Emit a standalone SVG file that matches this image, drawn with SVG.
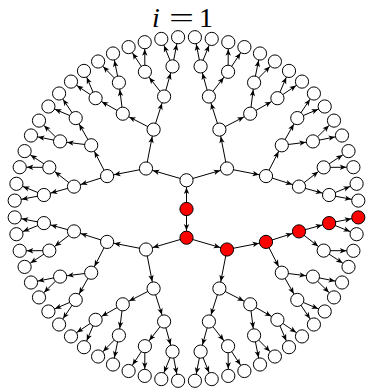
<svg xmlns="http://www.w3.org/2000/svg" width="368" height="388" viewBox="0 0 368 388">
<style>
.node circle{fill:#fff;stroke:#000;stroke-width:1}
.node.red circle{fill:#ff0000}
#edges line{stroke:#000;stroke-width:1;marker-end:url(#ah)}
.lbl{font-family:"Liberation Serif",serif;font-size:28px;fill:#000}
</style>
<defs>
<marker id="ah" markerUnits="userSpaceOnUse" markerWidth="10" markerHeight="10" refX="7.1" refY="0" orient="auto" overflow="visible">
<path d="M0,0 L-6.5,-2.7 L-4.8,0 L-6.5,2.7 Z" fill="#000"/>
</marker>
</defs>
<g id="label">
<text class="lbl" x="152" y="27" font-style="italic">i</text>
<text class="lbl" x="169" y="27" textLength="25" lengthAdjust="spacingAndGlyphs">=</text>
<text class="lbl" x="206" y="27" text-anchor="middle">1</text>
</g>
<g id="edges">
<line x1="186.5" y1="209" x2="186.5" y2="180.3"/>
<line x1="186.5" y1="209" x2="186.5" y2="237.7"/>
<line x1="186.5" y1="237.7" x2="227" y2="249.5"/>
<line x1="186.5" y1="237.7" x2="146" y2="249.5"/>
<line x1="186.5" y1="180.3" x2="146" y2="168.5"/>
<line x1="186.5" y1="180.3" x2="227" y2="168.5"/>
<line x1="227" y1="249.5" x2="266" y2="241.9"/>
<line x1="227" y1="249.5" x2="219.4" y2="288.5"/>
<line x1="146" y1="249.5" x2="153.6" y2="288.5"/>
<line x1="146" y1="249.5" x2="107.1" y2="241.9"/>
<line x1="146" y1="168.5" x2="107.1" y2="176.1"/>
<line x1="146" y1="168.5" x2="153.6" y2="129.6"/>
<line x1="227" y1="168.5" x2="219.4" y2="129.6"/>
<line x1="227" y1="168.5" x2="266" y2="176.1"/>
<line x1="266" y1="241.9" x2="299" y2="231.4"/>
<line x1="266" y1="241.9" x2="281.8" y2="272.7"/>
<line x1="219.4" y1="288.5" x2="250.2" y2="304.3"/>
<line x1="219.4" y1="288.5" x2="208.9" y2="321.5"/>
<line x1="153.6" y1="288.5" x2="164.1" y2="321.5"/>
<line x1="153.6" y1="288.5" x2="122.8" y2="304.3"/>
<line x1="107.1" y1="241.9" x2="91.2" y2="272.7"/>
<line x1="107.1" y1="241.9" x2="74" y2="231.4"/>
<line x1="107.1" y1="176.1" x2="74" y2="186.6"/>
<line x1="107.1" y1="176.1" x2="91.2" y2="145.3"/>
<line x1="153.6" y1="129.6" x2="122.8" y2="113.7"/>
<line x1="153.6" y1="129.6" x2="164.1" y2="96.5"/>
<line x1="219.4" y1="129.6" x2="208.9" y2="96.5"/>
<line x1="219.4" y1="129.6" x2="250.2" y2="113.7"/>
<line x1="266" y1="176.1" x2="281.8" y2="145.3"/>
<line x1="266" y1="176.1" x2="299" y2="186.6"/>
<line x1="299" y1="231.4" x2="329.1" y2="223.1"/>
<line x1="299" y1="231.4" x2="323.7" y2="250.6"/>
<line x1="281.8" y1="272.7" x2="312.9" y2="276.6"/>
<line x1="281.8" y1="272.7" x2="297.3" y2="299.9"/>
<line x1="250.2" y1="304.3" x2="277.4" y2="319.8"/>
<line x1="250.2" y1="304.3" x2="254.1" y2="335.4"/>
<line x1="208.9" y1="321.5" x2="228.1" y2="346.2"/>
<line x1="208.9" y1="321.5" x2="200.6" y2="351.6"/>
<line x1="164.1" y1="321.5" x2="172.5" y2="351.6"/>
<line x1="164.1" y1="321.5" x2="144.9" y2="346.2"/>
<line x1="122.8" y1="304.3" x2="118.9" y2="335.4"/>
<line x1="122.8" y1="304.3" x2="95.6" y2="319.8"/>
<line x1="91.2" y1="272.7" x2="75.7" y2="299.9"/>
<line x1="91.2" y1="272.7" x2="60.1" y2="276.6"/>
<line x1="74" y1="231.4" x2="49.3" y2="250.6"/>
<line x1="74" y1="231.4" x2="43.9" y2="223.1"/>
<line x1="74" y1="186.6" x2="43.9" y2="195"/>
<line x1="74" y1="186.6" x2="49.3" y2="167.4"/>
<line x1="91.2" y1="145.3" x2="60.1" y2="141.4"/>
<line x1="91.2" y1="145.3" x2="75.7" y2="118.1"/>
<line x1="122.8" y1="113.7" x2="95.6" y2="98.2"/>
<line x1="122.8" y1="113.7" x2="118.9" y2="82.6"/>
<line x1="164.1" y1="96.5" x2="144.9" y2="71.8"/>
<line x1="164.1" y1="96.5" x2="172.5" y2="66.4"/>
<line x1="208.9" y1="96.5" x2="200.6" y2="66.4"/>
<line x1="208.9" y1="96.5" x2="228.1" y2="71.8"/>
<line x1="250.2" y1="113.7" x2="254.1" y2="82.6"/>
<line x1="250.2" y1="113.7" x2="277.4" y2="98.2"/>
<line x1="281.8" y1="145.3" x2="297.3" y2="118.1"/>
<line x1="281.8" y1="145.3" x2="312.9" y2="141.4"/>
<line x1="299" y1="186.6" x2="323.7" y2="167.4"/>
<line x1="299" y1="186.6" x2="329.1" y2="195"/>
<line x1="329.1" y1="223.1" x2="358.3" y2="217.4"/>
<line x1="329.1" y1="223.1" x2="356.6" y2="234.2"/>
<line x1="323.7" y1="250.6" x2="353.4" y2="250.8"/>
<line x1="323.7" y1="250.6" x2="348.5" y2="266.9"/>
<line x1="312.9" y1="276.6" x2="342" y2="282.5"/>
<line x1="312.9" y1="276.6" x2="334" y2="297.4"/>
<line x1="297.3" y1="299.9" x2="324.7" y2="311.5"/>
<line x1="297.3" y1="299.9" x2="313.9" y2="324.5"/>
<line x1="277.4" y1="319.8" x2="302" y2="336.4"/>
<line x1="277.4" y1="319.8" x2="289" y2="347.2"/>
<line x1="254.1" y1="335.4" x2="274.9" y2="356.5"/>
<line x1="254.1" y1="335.4" x2="260" y2="364.5"/>
<line x1="228.1" y1="346.2" x2="244.4" y2="371"/>
<line x1="228.1" y1="346.2" x2="228.3" y2="375.9"/>
<line x1="200.6" y1="351.6" x2="211.7" y2="379.1"/>
<line x1="200.6" y1="351.6" x2="194.9" y2="380.8"/>
<line x1="172.5" y1="351.6" x2="178.1" y2="380.8"/>
<line x1="172.5" y1="351.6" x2="161.3" y2="379.1"/>
<line x1="144.9" y1="346.2" x2="144.7" y2="375.9"/>
<line x1="144.9" y1="346.2" x2="128.6" y2="371"/>
<line x1="118.9" y1="335.4" x2="113" y2="364.5"/>
<line x1="118.9" y1="335.4" x2="98.1" y2="356.5"/>
<line x1="95.6" y1="319.8" x2="84" y2="347.2"/>
<line x1="95.6" y1="319.8" x2="71" y2="336.4"/>
<line x1="75.7" y1="299.9" x2="59.1" y2="324.5"/>
<line x1="75.7" y1="299.9" x2="48.4" y2="311.5"/>
<line x1="60.1" y1="276.6" x2="39" y2="297.4"/>
<line x1="60.1" y1="276.6" x2="31" y2="282.5"/>
<line x1="49.3" y1="250.6" x2="24.6" y2="266.9"/>
<line x1="49.3" y1="250.6" x2="19.7" y2="250.8"/>
<line x1="43.9" y1="223.1" x2="16.4" y2="234.2"/>
<line x1="43.9" y1="223.1" x2="14.7" y2="217.4"/>
<line x1="43.9" y1="195" x2="14.7" y2="200.6"/>
<line x1="43.9" y1="195" x2="16.4" y2="183.8"/>
<line x1="49.3" y1="167.4" x2="19.7" y2="167.2"/>
<line x1="49.3" y1="167.4" x2="24.6" y2="151.1"/>
<line x1="60.1" y1="141.4" x2="31" y2="135.5"/>
<line x1="60.1" y1="141.4" x2="39" y2="120.6"/>
<line x1="75.7" y1="118.1" x2="48.4" y2="106.5"/>
<line x1="75.7" y1="118.1" x2="59.1" y2="93.5"/>
<line x1="95.6" y1="98.2" x2="71" y2="81.6"/>
<line x1="95.6" y1="98.2" x2="84" y2="70.9"/>
<line x1="118.9" y1="82.6" x2="98.1" y2="61.5"/>
<line x1="118.9" y1="82.6" x2="113" y2="53.5"/>
<line x1="144.9" y1="71.8" x2="128.6" y2="47.1"/>
<line x1="144.9" y1="71.8" x2="144.7" y2="42.2"/>
<line x1="172.5" y1="66.4" x2="161.3" y2="38.9"/>
<line x1="172.5" y1="66.4" x2="178.1" y2="37.2"/>
<line x1="200.6" y1="66.4" x2="194.9" y2="37.2"/>
<line x1="200.6" y1="66.4" x2="211.7" y2="38.9"/>
<line x1="228.1" y1="71.8" x2="228.3" y2="42.2"/>
<line x1="228.1" y1="71.8" x2="244.4" y2="47.1"/>
<line x1="254.1" y1="82.6" x2="260" y2="53.5"/>
<line x1="254.1" y1="82.6" x2="274.9" y2="61.5"/>
<line x1="277.4" y1="98.2" x2="289" y2="70.9"/>
<line x1="277.4" y1="98.2" x2="302" y2="81.6"/>
<line x1="297.3" y1="118.1" x2="313.9" y2="93.5"/>
<line x1="297.3" y1="118.1" x2="324.7" y2="106.5"/>
<line x1="312.9" y1="141.4" x2="334" y2="120.6"/>
<line x1="312.9" y1="141.4" x2="342" y2="135.5"/>
<line x1="323.7" y1="167.4" x2="348.5" y2="151.1"/>
<line x1="323.7" y1="167.4" x2="353.4" y2="167.2"/>
<line x1="329.1" y1="195" x2="356.6" y2="183.8"/>
<line x1="329.1" y1="195" x2="358.3" y2="200.6"/>
</g>
<g id="nodes">
<g id="M" class="node red"><circle cx="186.5" cy="209" r="6.6"/></g>
<g id="T" class="node"><circle cx="186.5" cy="180.3" r="6.6"/></g>
<g id="B" class="node red"><circle cx="186.5" cy="237.7" r="6.6"/></g>
<g id="p0" class="node red"><circle cx="227" cy="249.5" r="6.6"/></g>
<g id="p1" class="node"><circle cx="146" cy="249.5" r="6.6"/></g>
<g id="p2" class="node"><circle cx="146" cy="168.5" r="6.6"/></g>
<g id="p3" class="node"><circle cx="227" cy="168.5" r="6.6"/></g>
<g id="n0" class="node red"><circle cx="266" cy="241.9" r="6.6"/></g>
<g id="n1" class="node"><circle cx="219.4" cy="288.5" r="6.6"/></g>
<g id="n2" class="node"><circle cx="153.6" cy="288.5" r="6.6"/></g>
<g id="n3" class="node"><circle cx="107.1" cy="241.9" r="6.6"/></g>
<g id="n4" class="node"><circle cx="107.1" cy="176.1" r="6.6"/></g>
<g id="n5" class="node"><circle cx="153.6" cy="129.6" r="6.6"/></g>
<g id="n6" class="node"><circle cx="219.4" cy="129.6" r="6.6"/></g>
<g id="n7" class="node"><circle cx="266" cy="176.1" r="6.6"/></g>
<g id="m0" class="node red"><circle cx="299" cy="231.4" r="6.6"/></g>
<g id="m1" class="node"><circle cx="281.8" cy="272.7" r="6.6"/></g>
<g id="m2" class="node"><circle cx="250.2" cy="304.3" r="6.6"/></g>
<g id="m3" class="node"><circle cx="208.9" cy="321.5" r="6.6"/></g>
<g id="m4" class="node"><circle cx="164.1" cy="321.5" r="6.6"/></g>
<g id="m5" class="node"><circle cx="122.8" cy="304.3" r="6.6"/></g>
<g id="m6" class="node"><circle cx="91.2" cy="272.7" r="6.6"/></g>
<g id="m7" class="node"><circle cx="74" cy="231.4" r="6.6"/></g>
<g id="m8" class="node"><circle cx="74" cy="186.6" r="6.6"/></g>
<g id="m9" class="node"><circle cx="91.2" cy="145.3" r="6.6"/></g>
<g id="m10" class="node"><circle cx="122.8" cy="113.7" r="6.6"/></g>
<g id="m11" class="node"><circle cx="164.1" cy="96.5" r="6.6"/></g>
<g id="m12" class="node"><circle cx="208.9" cy="96.5" r="6.6"/></g>
<g id="m13" class="node"><circle cx="250.2" cy="113.7" r="6.6"/></g>
<g id="m14" class="node"><circle cx="281.8" cy="145.3" r="6.6"/></g>
<g id="m15" class="node"><circle cx="299" cy="186.6" r="6.6"/></g>
<g id="j0" class="node red"><circle cx="329.1" cy="223.1" r="6.6"/></g>
<g id="j1" class="node"><circle cx="323.7" cy="250.6" r="6.6"/></g>
<g id="j2" class="node"><circle cx="312.9" cy="276.6" r="6.6"/></g>
<g id="j3" class="node"><circle cx="297.3" cy="299.9" r="6.6"/></g>
<g id="j4" class="node"><circle cx="277.4" cy="319.8" r="6.6"/></g>
<g id="j5" class="node"><circle cx="254.1" cy="335.4" r="6.6"/></g>
<g id="j6" class="node"><circle cx="228.1" cy="346.2" r="6.6"/></g>
<g id="j7" class="node"><circle cx="200.6" cy="351.6" r="6.6"/></g>
<g id="j8" class="node"><circle cx="172.5" cy="351.6" r="6.6"/></g>
<g id="j9" class="node"><circle cx="144.9" cy="346.2" r="6.6"/></g>
<g id="j10" class="node"><circle cx="118.9" cy="335.4" r="6.6"/></g>
<g id="j11" class="node"><circle cx="95.6" cy="319.8" r="6.6"/></g>
<g id="j12" class="node"><circle cx="75.7" cy="299.9" r="6.6"/></g>
<g id="j13" class="node"><circle cx="60.1" cy="276.6" r="6.6"/></g>
<g id="j14" class="node"><circle cx="49.3" cy="250.6" r="6.6"/></g>
<g id="j15" class="node"><circle cx="43.9" cy="223.1" r="6.6"/></g>
<g id="j16" class="node"><circle cx="43.9" cy="195" r="6.6"/></g>
<g id="j17" class="node"><circle cx="49.3" cy="167.4" r="6.6"/></g>
<g id="j18" class="node"><circle cx="60.1" cy="141.4" r="6.6"/></g>
<g id="j19" class="node"><circle cx="75.7" cy="118.1" r="6.6"/></g>
<g id="j20" class="node"><circle cx="95.6" cy="98.2" r="6.6"/></g>
<g id="j21" class="node"><circle cx="118.9" cy="82.6" r="6.6"/></g>
<g id="j22" class="node"><circle cx="144.9" cy="71.8" r="6.6"/></g>
<g id="j23" class="node"><circle cx="172.5" cy="66.4" r="6.6"/></g>
<g id="j24" class="node"><circle cx="200.6" cy="66.4" r="6.6"/></g>
<g id="j25" class="node"><circle cx="228.1" cy="71.8" r="6.6"/></g>
<g id="j26" class="node"><circle cx="254.1" cy="82.6" r="6.6"/></g>
<g id="j27" class="node"><circle cx="277.4" cy="98.2" r="6.6"/></g>
<g id="j28" class="node"><circle cx="297.3" cy="118.1" r="6.6"/></g>
<g id="j29" class="node"><circle cx="312.9" cy="141.4" r="6.6"/></g>
<g id="j30" class="node"><circle cx="323.7" cy="167.4" r="6.6"/></g>
<g id="j31" class="node"><circle cx="329.1" cy="195" r="6.6"/></g>
<g id="k0" class="node red"><circle cx="358.3" cy="217.4" r="6.6"/></g>
<g id="k1" class="node"><circle cx="356.6" cy="234.2" r="6.6"/></g>
<g id="k2" class="node"><circle cx="353.4" cy="250.8" r="6.6"/></g>
<g id="k3" class="node"><circle cx="348.5" cy="266.9" r="6.6"/></g>
<g id="k4" class="node"><circle cx="342" cy="282.5" r="6.6"/></g>
<g id="k5" class="node"><circle cx="334" cy="297.4" r="6.6"/></g>
<g id="k6" class="node"><circle cx="324.7" cy="311.5" r="6.6"/></g>
<g id="k7" class="node"><circle cx="313.9" cy="324.5" r="6.6"/></g>
<g id="k8" class="node"><circle cx="302" cy="336.4" r="6.6"/></g>
<g id="k9" class="node"><circle cx="289" cy="347.2" r="6.6"/></g>
<g id="k10" class="node"><circle cx="274.9" cy="356.5" r="6.6"/></g>
<g id="k11" class="node"><circle cx="260" cy="364.5" r="6.6"/></g>
<g id="k12" class="node"><circle cx="244.4" cy="371" r="6.6"/></g>
<g id="k13" class="node"><circle cx="228.3" cy="375.9" r="6.6"/></g>
<g id="k14" class="node"><circle cx="211.7" cy="379.1" r="6.6"/></g>
<g id="k15" class="node"><circle cx="194.9" cy="380.8" r="6.6"/></g>
<g id="k16" class="node"><circle cx="178.1" cy="380.8" r="6.6"/></g>
<g id="k17" class="node"><circle cx="161.3" cy="379.1" r="6.6"/></g>
<g id="k18" class="node"><circle cx="144.7" cy="375.9" r="6.6"/></g>
<g id="k19" class="node"><circle cx="128.6" cy="371" r="6.6"/></g>
<g id="k20" class="node"><circle cx="113" cy="364.5" r="6.6"/></g>
<g id="k21" class="node"><circle cx="98.1" cy="356.5" r="6.6"/></g>
<g id="k22" class="node"><circle cx="84" cy="347.2" r="6.6"/></g>
<g id="k23" class="node"><circle cx="71" cy="336.4" r="6.6"/></g>
<g id="k24" class="node"><circle cx="59.1" cy="324.5" r="6.6"/></g>
<g id="k25" class="node"><circle cx="48.4" cy="311.5" r="6.6"/></g>
<g id="k26" class="node"><circle cx="39" cy="297.4" r="6.6"/></g>
<g id="k27" class="node"><circle cx="31" cy="282.5" r="6.6"/></g>
<g id="k28" class="node"><circle cx="24.6" cy="266.9" r="6.6"/></g>
<g id="k29" class="node"><circle cx="19.7" cy="250.8" r="6.6"/></g>
<g id="k30" class="node"><circle cx="16.4" cy="234.2" r="6.6"/></g>
<g id="k31" class="node"><circle cx="14.7" cy="217.4" r="6.6"/></g>
<g id="k32" class="node"><circle cx="14.7" cy="200.6" r="6.6"/></g>
<g id="k33" class="node"><circle cx="16.4" cy="183.8" r="6.6"/></g>
<g id="k34" class="node"><circle cx="19.7" cy="167.2" r="6.6"/></g>
<g id="k35" class="node"><circle cx="24.6" cy="151.1" r="6.6"/></g>
<g id="k36" class="node"><circle cx="31" cy="135.5" r="6.6"/></g>
<g id="k37" class="node"><circle cx="39" cy="120.6" r="6.6"/></g>
<g id="k38" class="node"><circle cx="48.4" cy="106.5" r="6.6"/></g>
<g id="k39" class="node"><circle cx="59.1" cy="93.5" r="6.6"/></g>
<g id="k40" class="node"><circle cx="71" cy="81.6" r="6.6"/></g>
<g id="k41" class="node"><circle cx="84" cy="70.9" r="6.6"/></g>
<g id="k42" class="node"><circle cx="98.1" cy="61.5" r="6.6"/></g>
<g id="k43" class="node"><circle cx="113" cy="53.5" r="6.6"/></g>
<g id="k44" class="node"><circle cx="128.6" cy="47.1" r="6.6"/></g>
<g id="k45" class="node"><circle cx="144.7" cy="42.2" r="6.6"/></g>
<g id="k46" class="node"><circle cx="161.3" cy="38.9" r="6.6"/></g>
<g id="k47" class="node"><circle cx="178.1" cy="37.2" r="6.6"/></g>
<g id="k48" class="node"><circle cx="194.9" cy="37.2" r="6.6"/></g>
<g id="k49" class="node"><circle cx="211.7" cy="38.9" r="6.6"/></g>
<g id="k50" class="node"><circle cx="228.3" cy="42.2" r="6.6"/></g>
<g id="k51" class="node"><circle cx="244.4" cy="47.1" r="6.6"/></g>
<g id="k52" class="node"><circle cx="260" cy="53.5" r="6.6"/></g>
<g id="k53" class="node"><circle cx="274.9" cy="61.5" r="6.6"/></g>
<g id="k54" class="node"><circle cx="289" cy="70.9" r="6.6"/></g>
<g id="k55" class="node"><circle cx="302" cy="81.6" r="6.6"/></g>
<g id="k56" class="node"><circle cx="313.9" cy="93.5" r="6.6"/></g>
<g id="k57" class="node"><circle cx="324.7" cy="106.5" r="6.6"/></g>
<g id="k58" class="node"><circle cx="334" cy="120.6" r="6.6"/></g>
<g id="k59" class="node"><circle cx="342" cy="135.5" r="6.6"/></g>
<g id="k60" class="node"><circle cx="348.5" cy="151.1" r="6.6"/></g>
<g id="k61" class="node"><circle cx="353.4" cy="167.2" r="6.6"/></g>
<g id="k62" class="node"><circle cx="356.6" cy="183.8" r="6.6"/></g>
<g id="k63" class="node"><circle cx="358.3" cy="200.6" r="6.6"/></g>
</g>
</svg>
